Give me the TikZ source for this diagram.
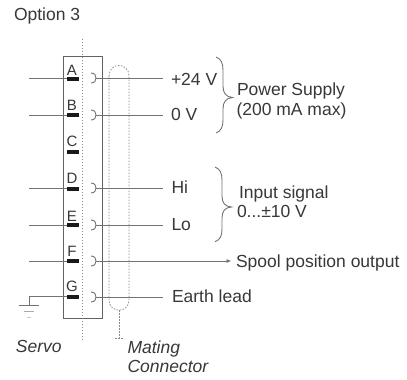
\documentclass[tikz,border=0pt]{standalone}
\usepackage{fontspec}
\setmainfont{Liberation Sans}
\usetikzlibrary{arrows.meta}
\definecolor{ink}{gray}{0.22}
\definecolor{wire}{gray}{0.45}
\definecolor{dots}{gray}{0.55}
\tikzset{
  lab/.style={inner sep=0pt,outer sep=0pt,anchor=base west,text=ink,font=\fontsize{17.5}{19}\selectfont},
  letter/.style={inner sep=0pt,anchor=base,text=ink,font=\fontsize{15}{15}\selectfont},
  pinbar/.style={fill=black!90,draw=none,minimum width=11.7pt,minimum height=3.7pt,inner sep=0pt},
  wireline/.style={draw=wire,line width=0.9pt},
  boxline/.style={draw=wire!85!black,line width=1pt},
  dotline/.style={draw=dots,line width=0.8pt,dash pattern=on 1.5pt off 1.5pt},
  socket/.style={draw=wire,line width=0.9pt},
  bracepath/.style={draw=wire,line width=0.9pt},
}
\begin{document}
\begin{tikzpicture}[x=1pt,y=-1pt]
\useasboundingbox (0,0) rectangle (407,380);
\fill[white] (0,0) rectangle (407,380);
\node[lab] (opt) at (14,20) {Option 3};
% box
\draw[boxline] (63,56) rectangle (102.5,318);
\node[inner sep=0,outer sep=0] (divtop) at (82.5,38) {};
\node[inner sep=0,outer sep=0] (divbot) at (82.5,341) {};
\draw[dotline] (divtop) -- (divbot);
% mating connector
\coordinate (mstem) at (119,310);
\coordinate (mend) at (119,338);
\coordinate (mcapl) at (115,338);
\coordinate (mcapr) at (124,338);
\draw[dotline] (109,76) .. controls (109,62) and (129,62) .. (129,76) -- (129,300) .. controls (129,313.5) and (109,313.5) .. (109,300) -- cycle;
\draw[dotline] (mstem) -- (mend);
\draw[dotline] (mcapl) -- (mcapr);
% pins
\foreach \n/\y in {A/79,B/115,C/152,D/189,E/225,F/261.3,G/296.7}{
  \node[pinbar] (pin\n) at (73,\y) {};
}
\foreach \n/\y in {A/78,B/115,D/188,E/225,F/261}{
  \coordinate (l\n) at (29,\y);
  \draw[wireline] (l\n) -- (pin\n.west |- l\n);
}
\foreach \n/\y in {A/75,B/110,C/146,D/183,E/221,F/256,G/291}{
  \node[letter] (let\n) at (72,\y) {\n};
}
% sockets
\foreach \n/\y in {A/78,B/115,D/188,E/225,F/261,G/297}{
  \coordinate (s\n) at (96,\y);
  \draw[socket] (91,\y-5) .. controls (95,\y-5) and (96,\y-2) .. (s\n) .. controls (96,\y+2) and (95,\y+5) .. (91,\y+5);
}
% right labels
\node[lab] (lA) at (171,85) {+24 V};
\node[lab] (lB) at (171,120) {0 V};
\node[lab] (lD) at (171.5,193) {Hi};
\node[lab] (lE) at (171.5,230) {Lo};
\node[lab] (lF) at (236,267) {Spool position output};
\node[lab] (lG) at (172,302.7) {Earth lead};
\coordinate (wA) at (163,78);
\coordinate (wB) at (163,115);
\coordinate (wD) at (163,188);
\coordinate (wE) at (163,225);
\coordinate (wG) at (163,297);
\coordinate (wF) at (231.5,261);
\foreach \n in {A,B,D,E,G}{ \draw[wireline] (s\n) -- (w\n); }
\draw[wireline,-{Latex[length=5pt,width=4pt]}] (sF) -- (wF);
% earth
\coordinate (gnd) at (29,305);
\draw[wireline] (pinG.west) -- (29,296.7) -- (gnd);
\coordinate (g1l) at (19,305); \coordinate (g1r) at (39,305);
\coordinate (g2l) at (24,311); \coordinate (g2r) at (34,311);
\coordinate (g3l) at (27,317); \coordinate (g3r) at (31,317);
\draw[wireline] (g1l) -- (g1r);
\draw[wireline,draw=wire!60] (g2l) -- (g2r);
\draw[wireline,draw=wire!40] (g3l) -- (g3r);
% braces
\coordinate (b1t) at (216,57);
\coordinate (b1m) at (232.5,97.5);
\coordinate (b1b) at (216,133);
\draw[bracepath] (b1t) .. controls (221,59) and (223,63) .. (223,70) -- (223,86) .. controls (223,93) and (226,97) .. (b1m) .. controls (226,98) and (223,102) .. (223,109) -- (223,120) .. controls (223,127) and (221,131) .. (b1b);
\coordinate (b2t) at (215,167);
\coordinate (b2m) at (231.5,207);
\coordinate (b2b) at (215,241.7);
\draw[bracepath] (b2t) .. controls (220,169) and (222,173) .. (222,180) -- (222,196) .. controls (222,203) and (225,206.5) .. (b2m) .. controls (225,207.5) and (222,211) .. (222,218) -- (222,229) .. controls (222,236) and (220,240) .. (b2b);
\node[lab] (ps1) at (237,95.7) {Power Supply};
\node[lab] (ps2) at (236.5,115) {(200 mA max)};
\node[lab] (is1) at (239,198) {Input signal};
\node[lab] (is2) at (237,217.7) {0...±10 V};
\node[lab,font=\fontsize{17.5}{19}\selectfont\itshape] (serv) at (16,352) {Servo};
\node[lab,font=\fontsize{17.5}{19}\selectfont\itshape] (mat1) at (127.5,353) {Mating};
\node[lab,font=\fontsize{17.5}{19}\selectfont\itshape] (mat2) at (127.5,372) {Connector};
\end{tikzpicture}
\end{document}
